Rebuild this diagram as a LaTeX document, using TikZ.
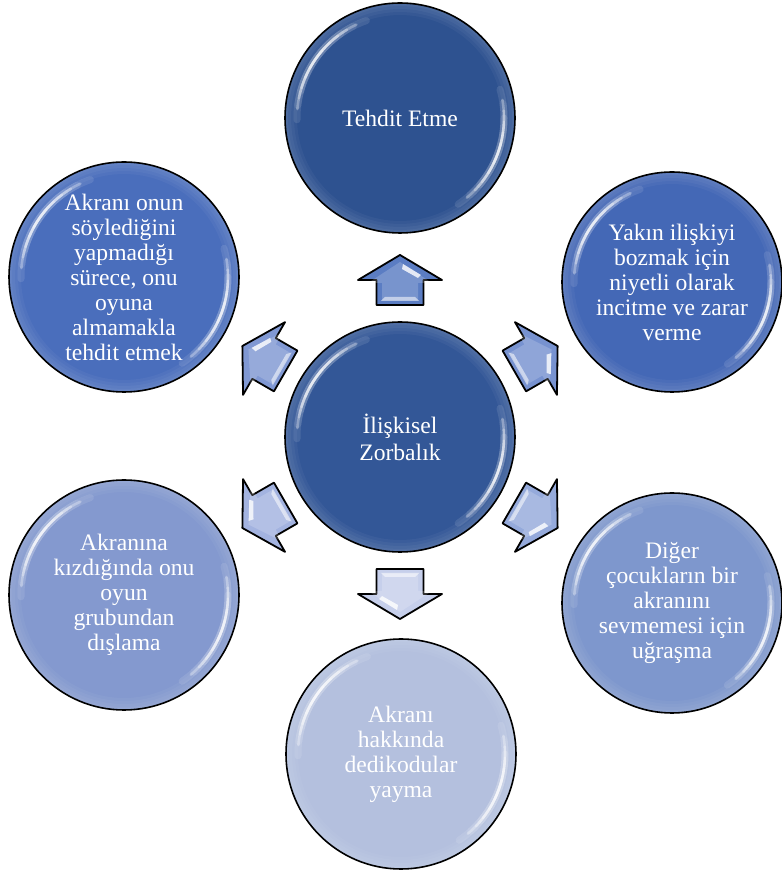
\documentclass[tikz,border=0pt]{standalone}
\usepackage{fontspec}
\setmainfont{Liberation Serif}
\usetikzlibrary{calc}

% circle fills
\definecolor{cTop}{HTML}{2E5290}
\definecolor{cMid}{HTML}{335797}
\definecolor{cUR}{HTML}{4468B6}
\definecolor{cLR}{HTML}{7E97CD}
\definecolor{cBot}{HTML}{B4C0DE}
\definecolor{cLL}{HTML}{8499CF}
\definecolor{cUL}{HTML}{4A6EBC}
% arrow fills
\definecolor{aTop}{HTML}{5B7DC3}
\definecolor{aUR}{HTML}{7792D0}
\definecolor{aLR}{HTML}{95AADB}
\definecolor{aBot}{HTML}{C6CFEB}
\definecolor{aLL}{HTML}{A3B3E0}
\definecolor{aUL}{HTML}{8098D3}

% glossy rim of a bubble, drawn inside the node
\newcommand\gloss[1]{%
  \coordinate (gc) at (path picture bounding box.center);
  \foreach \w in {3,6,9,12}{%
    \fill[white, opacity=.04, even odd rule]
      (gc) circle[radius=#1pt] (gc) circle[radius=#1pt-\w pt];
  }%
  % soft halo under the highlights
  \foreach \s in {36,28,20}{%
    \draw[white, opacity=.10, line width=7pt, line cap=round]
      ([shift={(145+\s:#1pt-12pt)}]gc) arc[start angle=145+\s, end angle=145-\s, radius=#1pt-12pt];
    \draw[white, opacity=.10, line width=7pt, line cap=round]
      ([shift={(-20+\s:#1pt-11pt)}]gc) arc[start angle=-20+\s, end angle=-20-\s, radius=#1pt-11pt];
  }%
  % bright streaks
  \foreach \s in {30,24,18,12,6}{%
    \draw[white, opacity=.3, line width=2.6pt, line cap=round]
      ([shift={(145+\s:#1pt-12pt)}]gc) arc[start angle=145+\s, end angle=145-\s, radius=#1pt-12pt];
    \draw[white, opacity=.3, line width=2.6pt, line cap=round]
      ([shift={(-20+\s:#1pt-11pt)}]gc) arc[start angle=-20+\s, end angle=-20-\s, radius=#1pt-11pt];
  }%
}

\tikzset{
  bubble/.style 2 args={circle, draw=black, line width=1.6pt, fill=#1,
    minimum size=2*#2pt, inner sep=0pt, text=white, align=center,
    font=\fontsize{23.6}{25}\selectfont, path picture={\gloss{#2}}},
  arrowline/.style={draw=black, line width=1.8pt, line join=round},
}

% block arrow pointing away from the hub
\newcommand\blockarrow[2]{%
  \begin{scope}[shift={($(hub)+(#1:157)$)}, rotate=#1]
    \draw[arrowline, fill=#2] (-25,-23.5) -- (0,-23.5) -- (0,-42) -- (25,0)
      -- (0,42) -- (0,23.5) -- (-25,23.5) -- cycle;
    \fill[white, opacity=.18] (-20,-18) -- (-3,-18) -- (-3,-32) -- (18,0)
      -- (-3,32) -- (-3,18) -- (-20,18) -- cycle;
    \fill[white, opacity=.55] (-21,-19) -- (-17,-15) -- (-17,15) -- (-21,19) -- cycle;
    \fill[white, opacity=.8] (16,-3) -- (5,-21) -- (2,-18) -- (11,-2) -- cycle;
  \end{scope}}

\begin{document}
\begin{tikzpicture}[x=1pt, y=1pt]
  \useasboundingbox (0,0) rectangle (782,876);

  \node[bubble={cMid}{115}] (hub) at (400,439) {İlişkisel\\[2pt]Zorbalık};

  \node[bubble={cTop}{115}] (top) at (400,758) {Tehdit Etme};
  \node[bubble={cUR}{110}] (ur) at (672,594)
    {Yakın ilişkiyi\\bozmak için\\niyetli olarak\\incitme ve zarar\\verme};
  \node[bubble={cLR}{110}] (lr) at (672,273)
    {Diğer\\çocukların bir\\akranını\\sevmemesi için\\uğraşma};
  \node[bubble={cBot}{115}] (bot) at (401,122)
    {Akranı\\hakkında\\dedikodular\\yayma};
  \node[bubble={cLL}{115}] (ll) at (124,281)
    {Akranına\\kızdığında onu\\oyun\\grubundan\\dışlama};
  \node[bubble={cUL}{115}] (ul) at (124,599)
    {Akranı onun\\söylediğini\\yapmadığı\\sürece, onu\\oyuna\\almamakla\\tehdit etmek};

  \blockarrow{90}{aTop}
  \blockarrow{30}{aUR}
  \blockarrow{-30}{aLR}
  \blockarrow{-90}{aBot}
  \blockarrow{-150}{aLL}
  \blockarrow{150}{aUL}
\end{tikzpicture}
\end{document}
